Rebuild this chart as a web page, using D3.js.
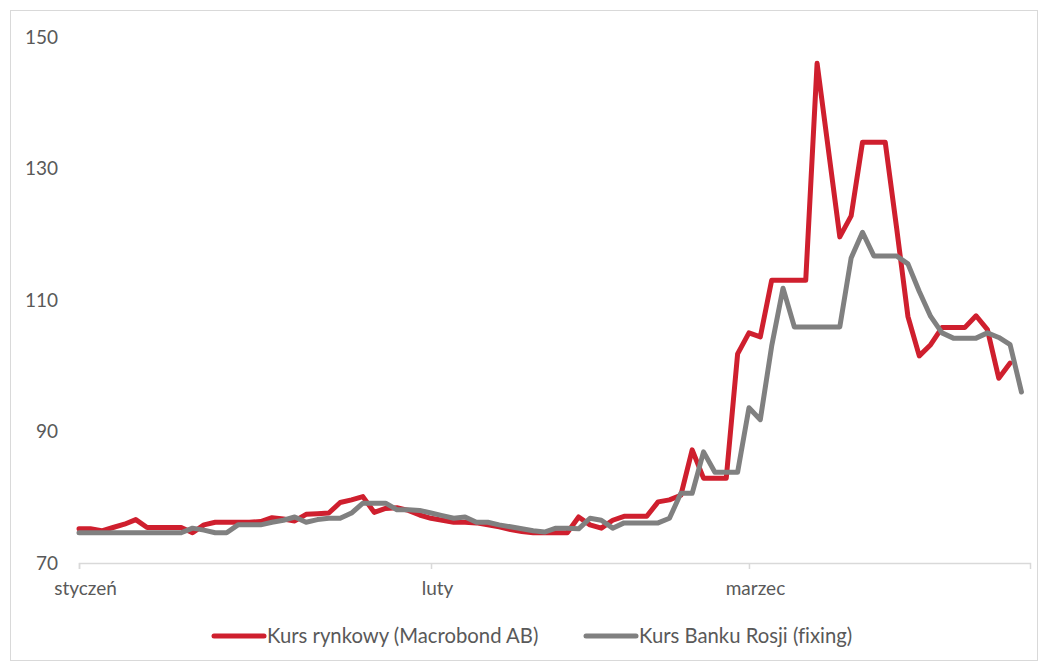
<!DOCTYPE html>
<html>
<head>
<meta charset="utf-8">
<script src="https://cdn.jsdelivr.net/npm/d3@7"></script>
<style>
  html, body { margin: 0; padding: 0; background: #fff; }
  svg { display: block; font-family: Lato, "Open Sans", Arial, sans-serif; font-variant-ligatures: none; }
</style>
</head>
<body>
<svg id="chart" width="1040" height="666"></svg>
<script>
// Daily USD/RUB rates, 1 Jan 2022 onwards (null = no quote that day)
const startDate = new Date(2022, 0, 1);
const endDate = new Date(2022, 2, 25, 18);
const monthTicks = [new Date(2022, 0, 1), new Date(2022, 1, 1), new Date(2022, 2, 1)];
const monthLabels = ["styczeń", "luty", "marzec"];
const yTicks = [70, 90, 110, 130, 150];
const seriesNames = ["Kurs rynkowy (Macrobond AB)", "Kurs Banku Rosji (fixing)"];
const seriesColors = ["#CF1F2E", "#808080"];

const marketRate = [
  75.2, 75.2, 74.9, 75.4, 75.9, 76.6, 75.4, 75.4, 75.4, 75.4,
  74.6, 75.8, 76.2, 76.2, 76.2, 76.2, 76.3, 76.9, 76.7, 76.4,
  77.4, 77.5, 77.6, 79.2, 79.6, 80.1, 77.7, 78.3, 78.4, 78.0,
  77.3, 76.8, 76.5, 76.2, 76.2, 76.1, 75.8, 75.5, 75.1, 74.8,
  74.6, 74.6, 74.6, 74.6, 77.0, 75.8, 75.3, 76.5, 77.1, 77.1,
  77.1, 79.3, 79.6, 80.3, 87.2, 82.9, 82.9, 82.9, 101.8, 105.0,
  104.4, 113.0, 113.0, 113.0, 113.0, 146.0, null, 119.6, 122.8, 134.0,
  134.0, 134.0, 121.0, 107.5, 101.5, 103.2, 105.8, 105.8, 105.8, 107.6,
  105.5, 98.1, 100.4, null
];

const cbrFixing = [
  74.6, 74.6, 74.6, 74.6, 74.6, 74.6, 74.6, 74.6, 74.6, 74.6,
  75.3, 75.0, 74.6, 74.6, 75.8, 75.8, 75.8, 76.2, 76.5, 77.0,
  76.2, 76.6, 76.8, 76.8, 77.6, 79.1, 79.1, 79.1, 78.1, 78.1,
  78.0, 77.6, 77.2, 76.8, 77.0, 76.2, 76.2, 75.8, 75.5, 75.2,
  74.9, 74.7, 75.3, 75.3, 75.2, 76.8, 76.5, 75.3, 76.1, 76.1,
  76.1, 76.1, 76.8, 80.6, 80.6, 86.9, 83.8, 83.8, 83.8, 93.6,
  91.8, 103.0, 111.8, 105.9, 105.9, 105.9, 105.9, 105.9, 116.4, 120.3,
  116.7, 116.7, 116.7, 115.5, 111.3, 107.5, 105.0, 104.2, 104.2, 104.2,
  105.0, 104.3, 103.2, 96.0
];

const toPoints = vals => vals
  .map((v, i) => ({ date: d3.timeDay.offset(startDate, i), v }))
  .filter(d => d.v != null);

const svg = d3.select("#chart");
const textColor = "#595959";

// chart frame
svg.append("rect")
  .attr("x", 10.5).attr("y", 10.5)
  .attr("width", 1027).attr("height", 650)
  .attr("fill", "#fff").attr("stroke", "#D9D9D9").attr("stroke-width", 1);

const x = d3.scaleTime().domain([startDate, endDate]).range([79, 1030]);
const y = d3.scaleLinear().domain([70, 150]).range([563, 37]);

// y axis labels only
const yAxis = svg.append("g")
  .attr("transform", "translate(60,0)")
  .call(d3.axisLeft(y).tickValues(yTicks).tickSize(0).tickPadding(2));
yAxis.select(".domain").remove();
yAxis.selectAll("text")
  .attr("fill", textColor)
  .style("font-family", "Lato, 'Open Sans', Arial, sans-serif")
  .style("font-size", "19px");

// x axis
const xAxis = svg.append("g")
  .attr("transform", "translate(0,563)")
  .call(d3.axisBottom(x).tickValues(monthTicks).tickSizeOuter(0).tickSize(6)
    .tickFormat((d, i) => monthLabels[i]));
xAxis.select(".domain").attr("stroke", "#D9D9D9").attr("stroke-width", 1.5);
xAxis.selectAll(".tick line").attr("stroke", "#D9D9D9").attr("stroke-width", 1.5);
xAxis.selectAll(".tick text")
  .attr("fill", textColor).attr("x", 6).attr("y", 19)
  .style("font-family", "Lato, 'Open Sans', Arial, sans-serif")
  .style("font-size", "19px");

// series lines
const line = d3.line().x(d => x(d.date)).y(d => y(d.v));
[marketRate, cbrFixing].forEach((vals, k) => {
  svg.append("path")
    .datum(toPoints(vals))
    .attr("fill", "none")
    .attr("stroke", seriesColors[k])
    .attr("stroke-width", 5)
    .attr("stroke-linejoin", "round")
    .attr("stroke-linecap", "round")
    .attr("d", line);
});

// legend
const legendItems = [
  { name: seriesNames[0], color: seriesColors[0], x0: 214 },
  { name: seriesNames[1], color: seriesColors[1], x0: 586 }
];
const lg = svg.append("g").attr("transform", "translate(0,636)");
legendItems.forEach(it => {
  lg.append("line")
    .attr("x1", it.x0).attr("x2", it.x0 + 50)
    .attr("y1", 0).attr("y2", 0)
    .attr("stroke", it.color).attr("stroke-width", 5)
    .attr("stroke-linecap", "round");
  lg.append("text")
    .attr("x", it.x0 + 53).attr("y", 0).attr("dy", "0.35em")
    .attr("fill", textColor).style("font-size", "20.3px")
    .text(it.name);
});
</script>
</body>
</html>
